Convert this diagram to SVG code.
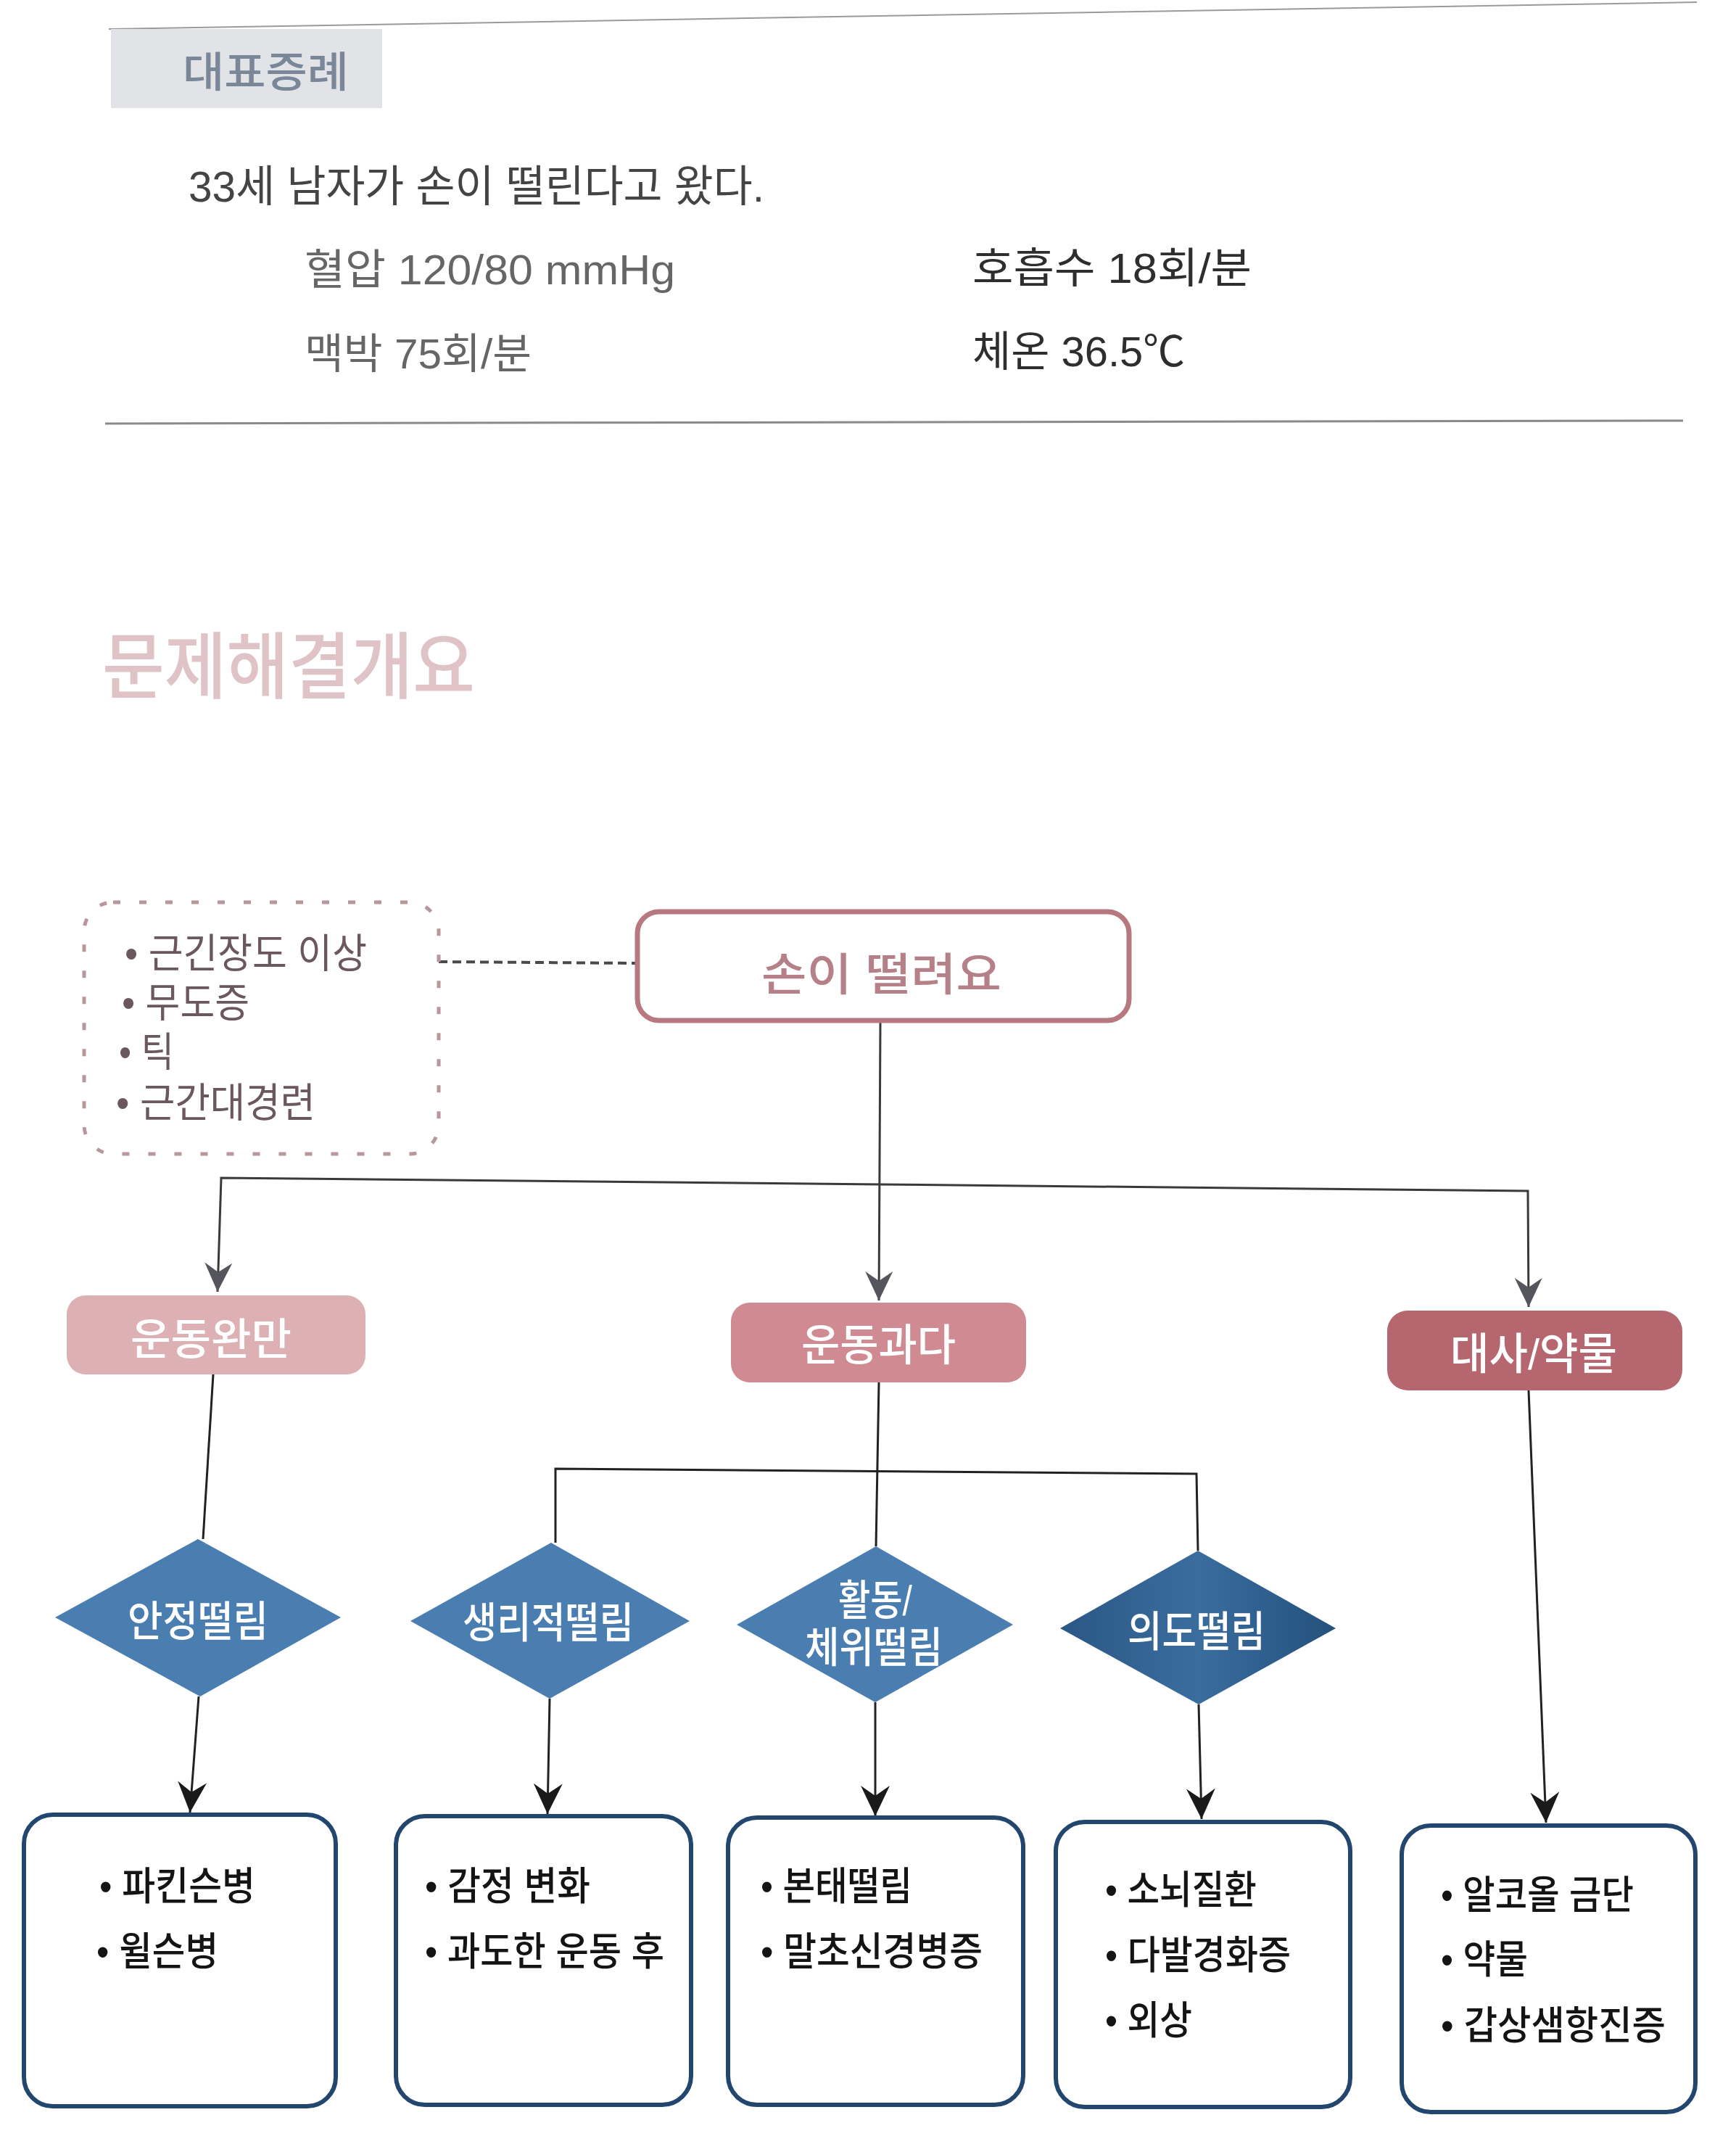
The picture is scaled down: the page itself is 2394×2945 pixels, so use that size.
<svg xmlns="http://www.w3.org/2000/svg" width="2394" height="2945" viewBox="0 0 2394 2945">
<defs>
<style>
.t { font-family: "Liberation Sans", "Noto Sans CJK KR", sans-serif; }
.hd { fill: #7a8798; font-size: 58px; font-weight: 500; }
.case { fill: #444444; font-size: 60px; }
.vl { fill: #666666; font-size: 58px; }
.vr { fill: #2e2e2e; font-size: 58px; }
.sec { fill: #e0c3c7; font-size: 100px; font-weight: 500; }
.dl { fill: #6b585c; font-size: 56px; }
.root { fill: #b58088; font-size: 62px; font-weight: 500; }
.cat { fill: #ffffff; font-size: 60px; font-weight: 500; }
.dia { fill: #ffffff; font-size: 58px; font-weight: 500; }
.bx { fill: #141414; font-size: 54px; font-weight: 500; }
.leaf { fill: #ffffff; stroke: #22466d; stroke-width: 6; }
.ln { fill: none; stroke: #222222; stroke-width: 3; }
.lng { fill: none; stroke: #3a3a3a; stroke-width: 3; }
</style>
<marker id="arrK" markerUnits="userSpaceOnUse" markerWidth="50" markerHeight="50" viewBox="-45 -25 50 50" refX="0" refY="0" orient="auto">
<path d="M0,0 L-42,-20 L-28,0 L-42,20 Z" fill="#1a1a1a"/>
</marker>
<marker id="arrG" markerUnits="userSpaceOnUse" markerWidth="50" markerHeight="50" viewBox="-45 -25 50 50" refX="0" refY="0" orient="auto">
<path d="M0,0 L-40,-19 L-27,0 L-40,19 Z" fill="#55555e"/>
</marker>
<linearGradient id="dgrad" x1="0" y1="0" x2="1" y2="0">
<stop offset="0" stop-color="#2b5784"/>
<stop offset="0.5" stop-color="#3a6d9e"/>
<stop offset="1" stop-color="#24507c"/>
</linearGradient>
</defs>
<rect x="0" y="0" width="2394" height="2945" fill="#ffffff"/>

<g id="header">
<line x1="150" y1="40" x2="2340" y2="3" stroke="#9a9a9a" stroke-width="2"/>
<rect x="153" y="40" width="374" height="109" fill="#e1e3e6"/>
<text class="t hd" x="252" y="120" textLength="229" lengthAdjust="spacingAndGlyphs">대표증례</text>
<text class="t case" x="260" y="278" textLength="794" lengthAdjust="spacingAndGlyphs">33세 남자가 손이 떨린다고 왔다.</text>
<text class="t vl" x="420" y="392" textLength="511" lengthAdjust="spacingAndGlyphs">혈압 120/80 mmHg</text>
<text class="t vr" x="1341" y="390" textLength="385" lengthAdjust="spacingAndGlyphs">호흡수 18회/분</text>
<text class="t vl" x="420" y="508" textLength="313" lengthAdjust="spacingAndGlyphs">맥박 75회/분</text>
<text class="t vr" x="1341" y="505" textLength="293" lengthAdjust="spacingAndGlyphs">체온 36.5℃</text>
<line x1="145" y1="584" x2="2321" y2="580" stroke="#8a8a8a" stroke-width="3"/>
</g>

<g id="section-title">
<text class="t sec" x="141" y="955" textLength="514" lengthAdjust="spacingAndGlyphs">문제해결개요</text>
</g>

<g id="connectors">
<path d="M605,1326 L877,1328" fill="none" stroke="#4a4a4a" stroke-width="4" stroke-dasharray="12 7"/>
<path class="lng" d="M1214,1410 L1212,1793" marker-end="url(#arrG)"/>
<path class="lng" d="M1214,1633 L305,1624 L300,1781" marker-end="url(#arrG)"/>
<path class="lng" d="M1214,1633 L2107,1642 L2108,1802" marker-end="url(#arrG)"/>
<path class="ln" d="M294,1895 L280,2122"/>
<path class="ln" d="M1212,1906 L1208,2132"/>
<path class="ln" d="M766,2127 L766,2025 L1650,2032 L1652,2138"/>
<path class="ln" d="M274,2339 L262,2499" marker-end="url(#arrK)"/>
<path class="ln" d="M758,2342 L755,2501" marker-end="url(#arrK)"/>
<path class="ln" d="M1207,2347 L1207,2504" marker-end="url(#arrK)"/>
<path class="ln" d="M1653,2350 L1657,2508" marker-end="url(#arrK)"/>
<path class="ln" d="M2108,1917 L2132,2513" marker-end="url(#arrK)"/>
</g>

<g id="differential">
<rect x="116" y="1244" width="489" height="347" rx="40" fill="none" stroke="#b8979c" stroke-width="5" stroke-dasharray="10 26"/>
<text class="t dl" x="172" y="1334" textLength="334" lengthAdjust="spacingAndGlyphs">• 근긴장도 이상</text>
<text class="t dl" x="168" y="1402" textLength="176" lengthAdjust="spacingAndGlyphs">• 무도증</text>
<text class="t dl" x="164" y="1470" textLength="76" lengthAdjust="spacingAndGlyphs">• 틱</text>
<text class="t dl" x="160" y="1540" textLength="275" lengthAdjust="spacingAndGlyphs">• 근간대경련</text>
</g>

<g id="root">
<rect x="879" y="1257" width="678" height="150" rx="30" fill="#ffffff" stroke="#b8787f" stroke-width="7"/>
<text class="t root" x="1050" y="1366" textLength="331" lengthAdjust="spacingAndGlyphs">손이 떨려요</text>
</g>

<g id="cat-hypokinetic">
<rect x="92" y="1786" width="412" height="109" rx="26" fill="#ddb0b4"/>
<text class="t cat" x="180" y="1868" textLength="222" lengthAdjust="spacingAndGlyphs">운동완만</text>
</g>
<g id="cat-hyperkinetic">
<rect x="1008" y="1796" width="407" height="110" rx="26" fill="#d08a91"/>
<text class="t cat" x="1105" y="1876" textLength="213" lengthAdjust="spacingAndGlyphs">운동과다</text>
</g>
<g id="cat-metabolic">
<rect x="1913" y="1807" width="407" height="110" rx="28" fill="#b5666f"/>
<text class="t cat" x="2000" y="1888" textLength="230" lengthAdjust="spacingAndGlyphs">대사/약물</text>
</g>

<g id="d-rest">
<polygon points="273,2122 470,2230 276,2339 76,2230" fill="#4a7db0"/>
<text class="t dia" x="176" y="2256" textLength="194" lengthAdjust="spacingAndGlyphs">안정떨림</text>
</g>
<g id="d-physiologic">
<polygon points="760,2127 951,2235 758,2342 566,2235" fill="#4a7db0"/>
<text class="t dia" x="638" y="2258" textLength="236" lengthAdjust="spacingAndGlyphs">생리적떨림</text>
</g>
<g id="d-action">
<polygon points="1208,2132 1397,2240 1207,2347 1016,2240" fill="#4a7db0"/>
<text class="t dia" x="1156" y="2227" textLength="102" lengthAdjust="spacingAndGlyphs">활동/</text>
<text class="t dia" x="1110" y="2292" textLength="190" lengthAdjust="spacingAndGlyphs">체위떨림</text>
</g>
<g id="d-intention">
<polygon points="1652,2138 1842,2245 1653,2350 1462,2245" fill="url(#dgrad)"/>
<text class="t dia" x="1555" y="2270" textLength="190" lengthAdjust="spacingAndGlyphs">의도떨림</text>
</g>

<g id="box-rest">
<rect class="leaf" x="33" y="2502" width="430" height="402" rx="40"/>
<text class="t bx" x="137" y="2620" textLength="215" lengthAdjust="spacingAndGlyphs">• 파킨슨병</text>
<text class="t bx" x="133" y="2710" textLength="168" lengthAdjust="spacingAndGlyphs">• 윌슨병</text>
</g>
<g id="box-physiologic">
<rect class="leaf" x="546" y="2504" width="407" height="398" rx="40"/>
<text class="t bx" x="586" y="2620" textLength="228" lengthAdjust="spacingAndGlyphs">• 감정 변화</text>
<text class="t bx" x="586" y="2710" textLength="330" lengthAdjust="spacingAndGlyphs">• 과도한 운동 후</text>
</g>
<g id="box-action">
<rect class="leaf" x="1004" y="2506" width="407" height="396" rx="40"/>
<text class="t bx" x="1049" y="2620" textLength="209" lengthAdjust="spacingAndGlyphs">• 본태떨림</text>
<text class="t bx" x="1049" y="2710" textLength="306" lengthAdjust="spacingAndGlyphs">• 말초신경병증</text>
</g>
<g id="box-intention">
<rect class="leaf" x="1456" y="2512" width="406" height="393" rx="40"/>
<text class="t bx" x="1524" y="2625" textLength="209" lengthAdjust="spacingAndGlyphs">• 소뇌질환</text>
<text class="t bx" x="1524" y="2715" textLength="256" lengthAdjust="spacingAndGlyphs">• 다발경화증</text>
<text class="t bx" x="1524" y="2805" textLength="120" lengthAdjust="spacingAndGlyphs">• 외상</text>
</g>
<g id="box-metabolic">
<rect class="leaf" x="1933" y="2517" width="405" height="395" rx="40"/>
<text class="t bx" x="1987" y="2632" textLength="266" lengthAdjust="spacingAndGlyphs">• 알코올 금단</text>
<text class="t bx" x="1987" y="2721" textLength="120" lengthAdjust="spacingAndGlyphs">• 약물</text>
<text class="t bx" x="1987" y="2812" textLength="310" lengthAdjust="spacingAndGlyphs">• 갑상샘항진증</text>
</g>
</svg>
